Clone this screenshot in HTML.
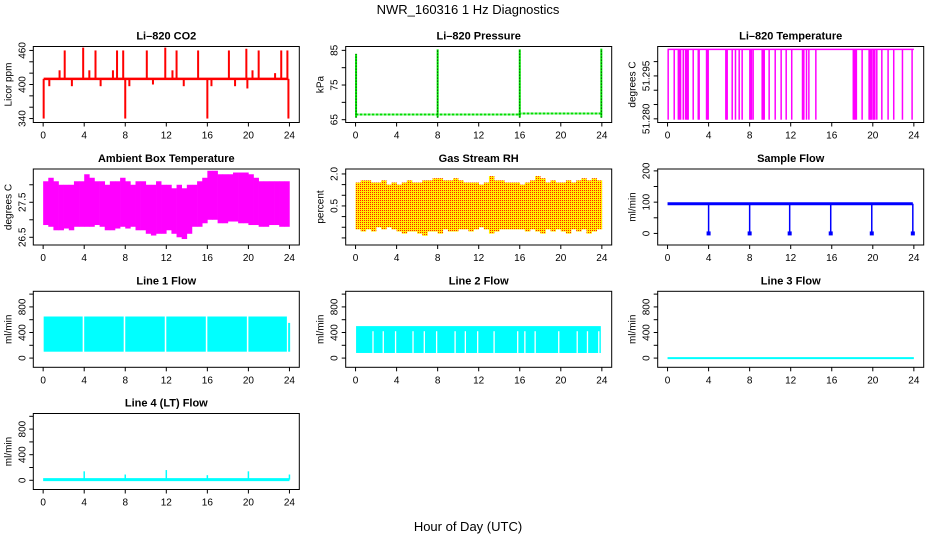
<!DOCTYPE html>
<html><head><meta charset="utf-8"><style>
body{margin:0;background:#fff}
svg{display:block;font-family:"Liberation Sans",Arial,sans-serif}
</style></head><body>
<svg id="chart" width="936" height="540" viewBox="0 0 936 540" xmlns="http://www.w3.org/2000/svg">
<defs>
<pattern id="rhpat" width="2" height="2" patternUnits="userSpaceOnUse">
<rect width="2" height="2" fill="#ffee00"/><rect width="1" height="1" fill="#ff2000"/>
</pattern>
</defs>
<text x="468" y="14" font-size="13" text-anchor="middle">NWR_160316  1 Hz Diagnostics</text>
<text x="468" y="531" font-size="13" text-anchor="middle">Hour of Day (UTC)</text>
</svg>
<script>
// ---- data ----
const xTicks = [0,4,8,12,16,20,24];
const co2Base = 410;
const co2SpikeHours = [2.1,3.9,5.1,7.2,7.8,10.1,11.9,13.0,15.1,18.1,19.8,21.0,23.2,23.8,1.6,4.5,6.8,12.6,20.4,22.6,0.6,2.8,5.6,8.4,10.7,13.7,16.4,18.7,19.9,0.05,8.0,16.0,23.9];
const co2SpikeVals  = [460,465,460,460,460,460,465,460,460,460,463,460,460,460,425,425,425,425,425,420,397,397,397,397,400,397,397,397,393,340,340,340,340];
const pressBaseHours = [0,16,16,24];
const pressBaseVals = [66.5,66.5,66.8,66.8];
const pressSpikeHours = [0.05,8.0,16.0,23.95];
const pressSpikeVals = [84,85.3,85.3,85.5];
const tempHigh = 51.3043;
const tempLow = 51.2797;
const tempDropHours = [0.06,0.65,1.05,1.15,1.27,1.53,1.75,1.85,1.95,2.01,2.5,2.99,3.08,3.8,3.88,3.96,5.68,5.75,5.81,6.3,6.62,6.98,7.27,8.02,8.1,8.18,8.34,9.22,9.3,9.36,9.42,9.9,10.49,11.07,11.56,12.1,13.15,13.22,13.28,13.54,13.77,14.45,18.1,18.2,18.3,18.4,18.96,19.64,19.72,19.8,19.87,20.03,20.1,20.2,20.39,20.88,21.49,22.04,22.89,23.83];
const ambHi = [28.1,28.2,28.1,28.0,28.0,28.0,28.1,28.1,28.3,28.2,28.1,28.1,28.0,28.1,28.1,28.2,28.1,28.0,28.1,28.1,28.0,28.0,28.1,28.0,28.0,27.9,28.0,27.9,28.0,28.0,28.1,28.2,28.4,28.4,28.3,28.3,28.3,28.35,28.35,28.35,28.3,28.2,28.1,28.1,28.1,28.1,28.1,28.1];
const ambLo = [26.85,26.8,26.7,26.7,26.75,26.7,26.8,26.8,26.8,26.8,26.85,26.8,26.7,26.7,26.75,26.8,26.75,26.8,26.7,26.7,26.6,26.55,26.6,26.6,26.7,26.6,26.5,26.45,26.6,26.8,26.8,26.9,27.0,27.0,26.9,26.9,26.95,26.95,26.9,26.9,26.85,26.85,26.8,26.8,26.85,26.85,26.8,26.8];
const rhHi = [1.6,1.7,1.7,1.6,1.6,1.7,1.5,1.6,1.5,1.6,1.7,1.6,1.6,1.7,1.7,1.8,1.8,1.7,1.7,1.8,1.7,1.6,1.6,1.6,1.5,1.6,1.9,1.7,1.7,1.6,1.6,1.6,1.5,1.6,1.7,1.9,1.8,1.6,1.7,1.6,1.6,1.7,1.6,1.7,1.8,1.7,1.8,1.7];
const rhLo = [-0.6,-0.7,-0.6,-0.7,-0.5,-0.6,-0.5,-0.6,-0.7,-0.8,-0.7,-0.7,-0.8,-0.9,-0.7,-0.7,-0.8,-0.6,-0.7,-0.7,-0.6,-0.6,-0.7,-0.6,-0.5,-0.6,-0.8,-0.7,-0.6,-0.6,-0.6,-0.6,-0.6,-0.7,-0.6,-0.7,-0.8,-0.6,-0.7,-0.6,-0.7,-0.8,-0.6,-0.7,-0.6,-0.8,-0.7,-0.6];
const sampleBase = 95;
const sampleDropHours = [4.0,8.0,11.9,15.9,19.9,23.9];
const sampleDropVals = [0,0,0,0,0,0];
const line1SegStart = [0.05,4.0,8.0,12.0,16.0,20.0];
const line1SegEnd = [3.85,7.85,11.85,15.85,19.85,23.75];
const line1Lo = 100, line1Hi = 650, line1Tail = 550;
const line2Lo = 80, line2Hi = 500;
const line2GapHours = [1.7,2.7,3.9,5.6,6.7,7.9,9.7,10.7,11.9,13.5,15.8,16.5,17.5,19.8,21.6,22.6,23.7];
const line3Val = 0;
const line4Base = 10;
const line4SpikeHours = [4,8,12,16,20,24];
const line4SpikeVals = [140,90,160,80,140,90];

// ---- layout ----
const svg = document.getElementById('chart');
const NS = 'http://www.w3.org/2000/svg';
const colX = [33.3,345.7,657.7];
const rowY = [46.5,169,291.3,413.5];
const W = 266, H = 76;
function mk(tag, attrs, parent){const e=document.createElementNS(NS,tag);for(const k in attrs)e.setAttribute(k,attrs[k]);(parent||svg).appendChild(e);return e;}
function panel(name,col,row,title,ylim,yTicks,yLabels,yTitle){
  const g = mk('g',{});
  
  
  const L=colX[col],T=rowY[row];
  const r=ylim[1]-ylim[0];
  const x = h => L + W*(0.04/1.08) + (h/24)*W/1.08;
  const y = v => T+H - ((v-(ylim[0]-0.04*r))/(1.08*r))*H;
  const plot = mk('g',{},g);
  
  
  const box = mk('rect',{x:L,y:T,width:W,height:H,fill:'none',stroke:'#000','stroke-width':1},g);
  
  
  const t = mk('text',{x:L+W/2,y:T-7,'font-size':11,'font-weight':'bold','text-anchor':'middle'},g);
  t.textContent=title;
  
  
  const xa = mk('g',{},g);
  
  
  xTicks.forEach(h=>{
    mk('line',{x1:x(h),x2:x(h),y1:T+H,y2:T+H+4,stroke:'#000'},xa);
    const tl=mk('text',{x:x(h),y:T+H+16,'font-size':10,'text-anchor':'middle'},xa);tl.textContent=h;
  });
  const ya = mk('g',{},g);
  
  
  yTicks.forEach(v=>{mk('line',{x1:L-4,x2:L,y1:y(v),y2:y(v),stroke:'#000'},ya);});
  yLabels.forEach(v=>{
    const tl=mk('text',{x:0,y:0,'font-size':10,'text-anchor':'middle',transform:`translate(${L-8},${y(v)}) rotate(-90)`},ya);
    tl.textContent=v;
  });
  const yt=mk('text',{x:0,y:0,'font-size':10,'text-anchor':'middle',transform:`translate(${L-22},${T+H/2}) rotate(-90)`},ya);
  yt.textContent=yTitle;
  
  
  return {x,y,g:plot};
}
function vline(p,h,v1,v2,color,w,extra){return mk('line',Object.assign({x1:p.x(h),x2:p.x(h),y1:p.y(v1),y2:p.y(v2),stroke:color,'stroke-width':w||1},extra||{}),p.g);}
function band(p,his,los,fill){
  const n=his.length;
  his.forEach((hv,i)=>{
    const h0=i*24/n,h1=(i+1)*24/n;
    const b=mk('rect',{x:p.x(h0),width:p.x(h1)-p.x(h0)+0.3,y:p.y(hv),height:p.y(los[i])-p.y(hv),fill:fill},p.g);
    
    
  });
}

// CO2
let p=panel('co2-panel',0,0,'Li\u2013820 CO2',[338,462],[340,360,380,400,420,440,460],['340','400','460'],'Licor ppm');
mk('line',{x1:p.x(0.05),x2:p.x(23.9),y1:p.y(co2Base),y2:p.y(co2Base),stroke:'#ff0000','stroke-width':2.5},p.g);
co2SpikeHours.forEach((h,i)=>{vline(p,h,co2Base,co2SpikeVals[i],'#ff0000',2);});

// Pressure
p=panel('pressure-panel',1,0,'Li\u2013820 Pressure',[65,85.3],[65,70,75,80,85],['65','75','85'],'kPa');
mk('polyline',{points:pressBaseHours.map((h,i)=>p.x(h)+','+p.y(pressBaseVals[i])).join(' '),fill:'none',stroke:'#00dd00','stroke-width':2,'stroke-dasharray':'3,1'},p.g);
pressSpikeHours.forEach((h,i)=>{vline(p,h,65.6,pressSpikeVals[i],'#00ee00',2);vline(p,h,65.6,pressSpikeVals[i],'#000',1,{'stroke-dasharray':'1,2'});});

// Temperature
p=panel('temperature-panel',2,0,'Li\u2013820 Temperature',[51.2797,51.3043],[51.280,51.285,51.290,51.295,51.300],['51.280','51.295'],'degrees C');
mk('line',{x1:p.x(0),x2:p.x(24),y1:p.y(tempHigh),y2:p.y(tempHigh),stroke:'#ff00ff','stroke-width':1.5},p.g);
tempDropHours.forEach(h=>{vline(p,h,tempHigh,tempLow,'#ff00ff',1.5);});

// Ambient
p=panel('ambient-temp-panel',0,1,'Ambient Box Temperature',[26.36,28.37],[26.5,27.0,27.5,28.0],['26.5','27.5'],'degrees C');
band(p,ambHi,ambLo,'#ff00ff');

// RH
p=panel('rh-panel',1,1,'Gas Stream RH',[-1.2,2.1],[-1.0,-0.5,0,0.5,1.0,1.5,2.0],['\u22121.0','0.5','2.0'],'percent');
band(p,rhHi,rhLo,'url(#rhpat)');

// Sample flow
p=panel('sample-flow-panel',2,1,'Sample Flow',[-28,197],[0,50,100,150,200],['0','100','200'],'ml/min');
mk('line',{x1:p.x(0),x2:p.x(23.9),y1:p.y(sampleBase),y2:p.y(sampleBase),stroke:'#0000ff','stroke-width':3},p.g);
sampleDropHours.forEach((h,i)=>{vline(p,h,sampleBase,sampleDropVals[i],'#0000ff',1.5);mk('rect',{x:p.x(h)-2,y:p.y(sampleDropVals[i])-2,width:4,height:4,fill:'#0000ff'},p.g);});

// Line 1
p=panel('line1-flow-panel',0,2,'Line 1 Flow',[-100,1000],[0,200,400,600,800,1000],['0','400','800'],'ml/min');
line1SegStart.forEach((s,i)=>{mk('rect',{x:p.x(s),width:p.x(line1SegEnd[i])-p.x(s),y:p.y(line1Hi),height:p.y(line1Lo)-p.y(line1Hi),fill:'#00ffff'},p.g);});
vline(p,23.97,line1Lo,line1Tail,'#00ffff',2);

// Line 2
p=panel('line2-flow-panel',1,2,'Line 2 Flow',[-100,1000],[0,200,400,600,800,1000],['0','400','800'],'ml/min');
mk('rect',{x:p.x(0.05),width:p.x(23.9)-p.x(0.05),y:p.y(line2Hi),height:p.y(line2Lo)-p.y(line2Hi),fill:'#00ffff'},p.g);
line2GapHours.forEach(h=>{vline(p,h,line2Lo,line2Hi-80,'#ffffff',1.3);});

// Line 3
p=panel('line3-flow-panel',2,2,'Line 3 Flow',[-100,1000],[0,200,400,600,800,1000],['0','400','800'],'ml/min');
mk('line',{x1:p.x(0),x2:p.x(24),y1:p.y(line3Val),y2:p.y(line3Val),stroke:'#00ffff','stroke-width':2},p.g);

// Line 4
p=panel('line4-flow-panel',0,3,'Line 4 (LT) Flow',[-100,1000],[0,200,400,600,800,1000],['0','400','800'],'ml/min');
mk('line',{x1:p.x(0),x2:p.x(24),y1:p.y(line4Base),y2:p.y(line4Base),stroke:'#00ffff','stroke-width':3},p.g);
line4SpikeHours.forEach((h,i)=>{vline(p,h,line4Base,line4SpikeVals[i],'#00ffff',1.5);});
</script>
</body></html>
